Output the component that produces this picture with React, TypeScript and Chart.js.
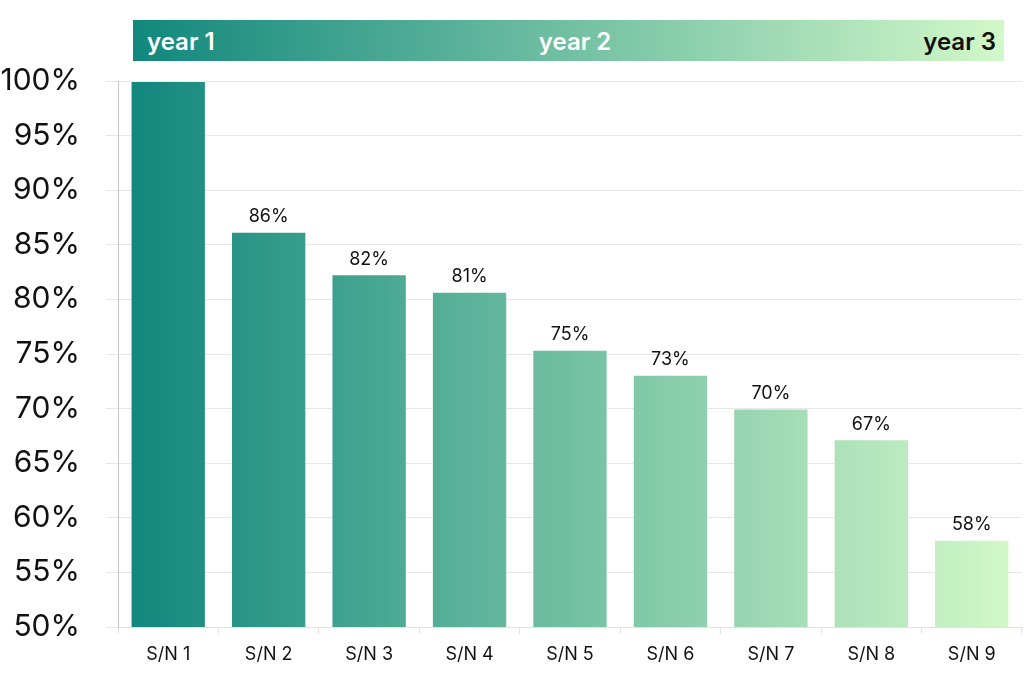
import React, { useEffect, useRef } from 'react';
import { Chart, registerables } from 'chart.js';
import type { Plugin } from 'chart.js';

Chart.register(...registerables);

const categories = ['S/N 1', 'S/N 2', 'S/N 3', 'S/N 4', 'S/N 5', 'S/N 6', 'S/N 7', 'S/N 8', 'S/N 9'];
const values = [100, 86.2, 82.3, 80.7, 75.4, 73.1, 70.0, 67.2, 58.0];
const yearLabels = ['year 1', 'year 2', 'year 3'];

const FONT = 'Inter, "Noto Sans", sans-serif';
const START_COLOR = '#11877d';
const END_COLOR = '#d2f8c8';

// Draws the rounded value above each bar, clipped to the plot area
const valueLabelPlugin: Plugin<'bar'> = {
  id: 'valueLabelPlugin',
  afterDatasetsDraw: (chart) => {
    const { ctx, chartArea } = chart;
    const meta = chart.getDatasetMeta(0);
    ctx.save();
    ctx.beginPath();
    ctx.rect(chartArea.left, chartArea.top, chartArea.right - chartArea.left, chartArea.bottom - chartArea.top);
    ctx.clip();
    ctx.font = `18px ${FONT}`;
    ctx.fillStyle = '#111';
    ctx.textAlign = 'center';
    ctx.textBaseline = 'bottom';
    meta.data.forEach((bar: any, i) => {
      ctx.fillText(Math.round(values[i]) + '%', bar.x, bar.y - 6);
    });
    ctx.restore();
  },
};

const App: React.FC = () => {
  const canvasRef = useRef<HTMLCanvasElement>(null);
  const chartRef = useRef<Chart | null>(null);

  useEffect(() => {
    if (!canvasRef.current) return;
    if (chartRef.current) chartRef.current.destroy();

    chartRef.current = new Chart(canvasRef.current, {
      type: 'bar',
      data: {
        labels: categories,
        datasets: [
          {
            data: values,
            backgroundColor: (c: any) => {
              const area = c.chart.chartArea;
              if (!area) return START_COLOR;
              const g = c.chart.ctx.createLinearGradient(area.left + 12, 0, area.right - 12, 0);
              g.addColorStop(0, START_COLOR);
              g.addColorStop(1, END_COLOR);
              return g;
            },
            borderColor: 'rgba(255,255,255,0.35)',
            borderWidth: 1,
            categoryPercentage: 1,
            barPercentage: 0.75,
          },
        ],
      },
      options: {
        responsive: false,
        animation: false,
        layout: { padding: { top: 81, right: 2, left: 0, bottom: 0 } },
        plugins: {
          legend: { display: false },
          tooltip: { enabled: false },
        },
        scales: {
          x: {
            grid: {
              offset: true,
              drawOnChartArea: false,
              drawTicks: true,
              tickLength: 7,
              color: '#e2e2e2',
            },
            border: { color: '#e2e2e2' },
            ticks: {
              color: '#111',
              padding: 10,
              font: { family: FONT, size: 18 },
            },
            afterFit: (scale: any) => {
              scale.height = 63;
            },
          },
          y: {
            min: 50,
            max: 100,
            ticks: {
              stepSize: 5,
              color: '#111',
              padding: 26,
              font: { family: FONT, size: 30 },
              callback: (v: any) => v + '%',
            },
            grid: { color: '#e6e6e6', tickLength: 12 },
            border: { color: '#c4c4c4' },
            afterFit: (scale: any) => {
              scale.width = 118;
            },
          },
        },
      },
      plugins: [valueLabelPlugin],
    });

    return () => {
      if (chartRef.current) {
        chartRef.current.destroy();
        chartRef.current = null;
      }
    };
  }, []);

  const yearStyle: React.CSSProperties = {
    position: 'absolute',
    top: '50%',
    transform: 'translateY(-50%)',
    fontFamily: FONT,
    fontSize: 24,
    fontWeight: 600,
    whiteSpace: 'nowrap',
  };

  return (
    <div style={{ position: 'absolute', left: 0, top: 0, width: 1024, height: 690, background: '#fff' }}>
      <canvas ref={canvasRef} width={1024} height={690} style={{ position: 'absolute', left: 0, top: 0 }} />
      <div
        style={{
          position: 'absolute',
          left: 133,
          top: 20,
          width: 871,
          height: 41,
          background: `linear-gradient(to right, ${START_COLOR}, ${END_COLOR})`,
        }}
      >
        <span style={{ ...yearStyle, left: 14, color: '#fff' }}>{yearLabels[0]}</span>
        <span style={{ ...yearStyle, left: 442, color: '#fff', transform: 'translate(-50%, -50%)' }}>
          {yearLabels[1]}
        </span>
        <span style={{ ...yearStyle, right: 8, color: '#111' }}>{yearLabels[2]}</span>
      </div>
    </div>
  );
};

export default App;
